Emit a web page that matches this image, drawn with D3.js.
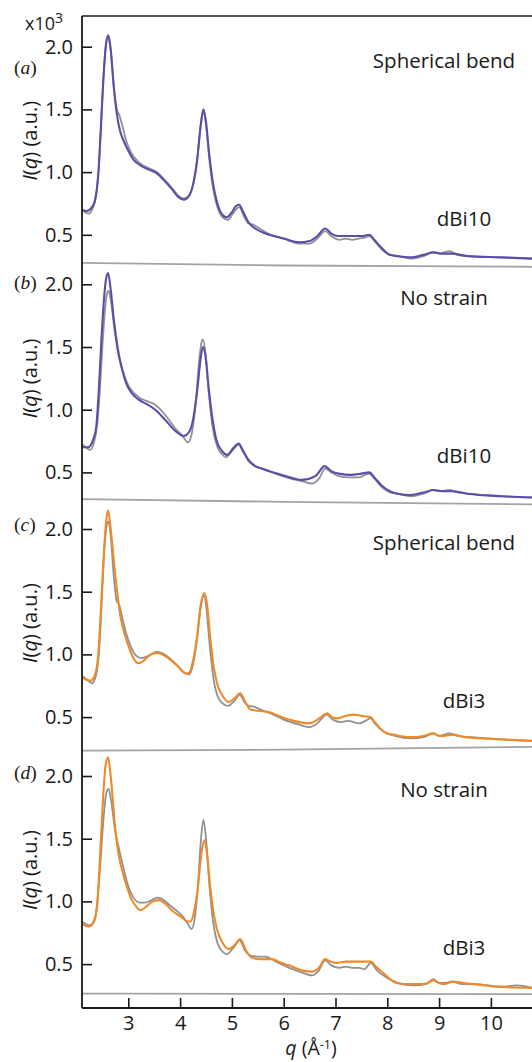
<!DOCTYPE html>
<html>
<head>
<meta charset="utf-8">
<script src="https://cdn.jsdelivr.net/npm/d3@7"></script>
<style>
  body { margin: 0; background: #fff; }
  svg text { font-family: "Open Sans", "DejaVu Sans", sans-serif; fill: #1a1a1a; }
  .panel-tag { font-family: "Liberation Serif", "DejaVu Serif", serif; }
</style>
</head>
<body>
<div id="chart"></div>
<script>
// ---- data (q in 1/Angstrom, intensity in units of 10^3) ----
var qTicks = [3, 4, 5, 6, 7, 8, 9, 10];
var yTicks = [0.5, 1.0, 1.5, 2.0];
var panelTags = ["a", "b", "c", "d"];
var topNotes = ["Spherical bend", "No strain", "Spherical bend", "No strain"];
var sampleNotes = ["dBi10", "dBi10", "dBi3", "dBi3"];

// (a) dBi10, spherical bend
var dataA = [[2.10,0.70],[2.16,0.68],[2.24,0.67],[2.32,0.72],[2.38,0.82],[2.44,1.10],[2.50,1.60],[2.56,1.98],[2.615,2.08],[2.66,1.97],[2.72,1.68],[2.78,1.50],[2.82,1.46],[2.88,1.38],[2.96,1.25],[3.05,1.16],[3.20,1.08],[3.40,1.03],[3.55,1.00],[3.70,0.94],[3.85,0.87],[3.97,0.81],[4.07,0.79],[4.17,0.81],[4.25,0.90],[4.33,1.10],[4.40,1.38],[4.45,1.49],[4.50,1.38],[4.56,1.12],[4.64,0.86],[4.72,0.72],[4.82,0.64],[4.92,0.62],[5.02,0.67],[5.14,0.72],[5.24,0.64],[5.32,0.59],[5.42,0.58],[5.50,0.56],[5.70,0.51],[6.00,0.47],[6.30,0.43],[6.50,0.43],[6.65,0.47],[6.80,0.53],[6.92,0.49],[7.08,0.46],[7.20,0.47],[7.32,0.46],[7.45,0.47],[7.58,0.48],[7.66,0.49],[7.75,0.45],[7.90,0.38],[8.05,0.34],[8.20,0.33],[8.45,0.31],[8.70,0.33],[8.88,0.36],[9.00,0.35],[9.20,0.37],[9.35,0.34],[9.55,0.33],[10.2,0.32],[10.8,0.31]];
var fitA = [[2.10,0.70],[2.20,0.69],[2.30,0.72],[2.36,0.78],[2.42,0.98],[2.47,1.35],[2.52,1.75],[2.57,2.02],[2.615,2.09],[2.66,1.98],[2.72,1.68],[2.78,1.46],[2.84,1.33],[2.90,1.26],[3.00,1.17],[3.10,1.10],[3.25,1.05],[3.40,1.02],[3.55,0.99],[3.70,0.93],[3.85,0.86],[3.97,0.80],[4.07,0.78],[4.17,0.81],[4.25,0.90],[4.33,1.10],[4.40,1.38],[4.45,1.50],[4.50,1.40],[4.56,1.15],[4.64,0.90],[4.72,0.75],[4.80,0.67],[4.90,0.64],[5.00,0.68],[5.08,0.73],[5.14,0.74],[5.22,0.68],[5.32,0.60],[5.45,0.55],[5.65,0.51],[6.00,0.47],[6.30,0.44],[6.50,0.45],[6.65,0.49],[6.80,0.55],[6.92,0.51],[7.05,0.49],[7.30,0.49],[7.50,0.49],[7.65,0.50],[7.75,0.46],[7.88,0.40],[8.05,0.34],[8.20,0.33],[8.45,0.32],[8.70,0.34],[8.90,0.36],[9.05,0.35],[9.25,0.35],[9.55,0.33],[10.2,0.32],[10.8,0.31]];
var baseA = [[2.10,0.276],[6.00,0.255],[10.8,0.245]];

// (b) dBi10, no strain
var dataB = [[2.10,0.73],[2.18,0.70],[2.26,0.68],[2.34,0.74],[2.40,0.88],[2.45,1.15],[2.50,1.50],[2.55,1.80],[2.60,1.94],[2.62,1.95],[2.67,1.85],[2.73,1.65],[2.80,1.46],[2.88,1.33],[2.97,1.22],[3.07,1.15],[3.20,1.10],[3.35,1.07],[3.52,1.04],[3.71,0.96],[3.91,0.85],[4.05,0.79],[4.15,0.74],[4.22,0.80],[4.30,1.05],[4.37,1.40],[4.42,1.55],[4.44,1.56],[4.49,1.45],[4.55,1.15],[4.62,0.88],[4.72,0.70],[4.82,0.64],[4.88,0.62],[5.00,0.67],[5.13,0.72],[5.22,0.66],[5.32,0.59],[5.45,0.55],[5.60,0.53],[5.97,0.47],[6.35,0.43],[6.55,0.41],[6.68,0.45],[6.80,0.53],[6.92,0.50],[7.06,0.47],[7.25,0.46],[7.45,0.46],[7.65,0.49],[7.75,0.45],[7.90,0.38],[8.05,0.34],[8.20,0.33],[8.45,0.31],[8.70,0.33],[8.88,0.36],[9.00,0.35],[9.20,0.36],[9.35,0.34],[9.55,0.33],[10.2,0.31],[10.8,0.30]];
var fitB = [[2.10,0.70],[2.22,0.70],[2.32,0.76],[2.38,0.86],[2.43,1.15],[2.48,1.55],[2.53,1.88],[2.57,2.04],[2.61,2.09],[2.66,1.96],[2.72,1.72],[2.80,1.48],[2.88,1.32],[2.97,1.20],[3.07,1.13],[3.20,1.08],[3.33,1.05],[3.52,1.00],[3.71,0.92],[3.91,0.83],[4.07,0.79],[4.17,0.82],[4.25,0.92],[4.33,1.15],[4.40,1.42],[4.44,1.50],[4.49,1.43],[4.55,1.18],[4.62,0.94],[4.70,0.76],[4.81,0.67],[4.91,0.64],[5.02,0.69],[5.13,0.73],[5.22,0.67],[5.32,0.60],[5.45,0.55],[5.58,0.53],[5.97,0.48],[6.35,0.44],[6.61,0.47],[6.79,0.55],[6.92,0.51],[7.06,0.49],[7.30,0.48],[7.50,0.49],[7.65,0.50],[7.75,0.46],[7.88,0.40],[8.05,0.35],[8.20,0.33],[8.45,0.32],[8.70,0.34],[8.90,0.36],[9.05,0.35],[9.25,0.35],[9.55,0.33],[10.2,0.31],[10.8,0.30]];
var baseB = [[2.10,0.287],[6.00,0.265],[10.8,0.245]];

// (c) dBi3, spherical bend
var dataC = [[2.10,0.83],[2.20,0.80],[2.30,0.77],[2.38,0.84],[2.44,1.05],[2.49,1.45],[2.54,1.85],[2.59,2.04],[2.62,2.06],[2.67,1.90],[2.72,1.62],[2.78,1.42],[2.82,1.40],[2.88,1.30],[2.95,1.18],[3.05,1.06],[3.15,0.99],[3.25,0.97],[3.40,0.99],[3.55,1.02],[3.65,1.01],[3.80,0.97],[3.95,0.91],[4.10,0.85],[4.17,0.84],[4.25,0.92],[4.32,1.10],[4.40,1.38],[4.46,1.47],[4.51,1.36],[4.57,1.08],[4.64,0.82],[4.72,0.67],[4.82,0.61],[4.92,0.59],[5.05,0.63],[5.15,0.68],[5.24,0.62],[5.32,0.59],[5.45,0.58],[5.55,0.56],[5.80,0.52],[6.00,0.48],[6.30,0.44],[6.50,0.42],[6.65,0.45],[6.83,0.52],[6.95,0.48],[7.10,0.46],[7.25,0.47],[7.35,0.46],[7.45,0.45],[7.58,0.47],[7.67,0.49],[7.78,0.44],[7.95,0.38],[8.15,0.35],[8.45,0.33],[8.70,0.34],[8.89,0.37],[9.00,0.35],[9.20,0.37],[9.35,0.35],[9.60,0.34],[10.3,0.32],[10.8,0.31]];
var fitC = [[2.10,0.82],[2.27,0.79],[2.36,0.84],[2.42,1.00],[2.47,1.35],[2.52,1.75],[2.57,2.05],[2.61,2.15],[2.66,2.00],[2.72,1.75],[2.79,1.48],[2.85,1.30],[2.93,1.16],[3.01,1.06],[3.10,0.97],[3.20,0.93],[3.30,0.95],[3.40,0.99],[3.50,1.01],[3.59,1.01],[3.70,0.99],[3.80,0.96],[3.97,0.90],[4.10,0.85],[4.16,0.85],[4.24,0.93],[4.32,1.12],[4.40,1.40],[4.47,1.49],[4.52,1.40],[4.58,1.14],[4.65,0.90],[4.72,0.76],[4.82,0.67],[4.94,0.62],[5.05,0.65],[5.16,0.69],[5.26,0.62],[5.36,0.56],[5.50,0.55],[5.71,0.54],[5.90,0.51],[6.10,0.48],[6.30,0.46],[6.48,0.45],[6.62,0.47],[6.75,0.51],[6.84,0.53],[6.93,0.50],[7.03,0.49],[7.20,0.51],[7.34,0.52],[7.50,0.51],[7.67,0.50],[7.76,0.46],[7.86,0.41],[8.00,0.37],[8.12,0.36],[8.44,0.34],[8.70,0.35],[8.89,0.37],[9.00,0.35],[9.08,0.35],[9.27,0.36],[9.50,0.34],[9.85,0.33],[10.3,0.32],[10.8,0.31]];
var baseC = [[2.10,0.233],[6.00,0.240],[10.8,0.262]];

// (d) dBi3, no strain
var dataD = [[2.10,0.84],[2.18,0.82],[2.26,0.81],[2.34,0.85],[2.40,0.98],[2.46,1.30],[2.52,1.65],[2.57,1.85],[2.62,1.90],[2.67,1.80],[2.74,1.58],[2.82,1.42],[2.90,1.28],[3.00,1.12],[3.10,1.03],[3.22,0.99],[3.32,0.99],[3.45,1.01],[3.55,1.03],[3.65,1.02],[3.80,0.97],[3.95,0.92],[4.05,0.88],[4.15,0.82],[4.22,0.78],[4.28,0.86],[4.34,1.10],[4.40,1.48],[4.45,1.65],[4.50,1.50],[4.56,1.16],[4.63,0.86],[4.72,0.67],[4.82,0.60],[4.90,0.58],[5.03,0.63],[5.15,0.69],[5.25,0.61],[5.35,0.57],[5.50,0.56],[5.65,0.56],[5.85,0.52],[6.00,0.49],[6.30,0.44],[6.55,0.41],[6.68,0.45],[6.80,0.53],[6.92,0.49],[7.08,0.47],[7.20,0.48],[7.32,0.47],[7.45,0.47],[7.56,0.46],[7.68,0.51],[7.80,0.45],[8.00,0.39],[8.20,0.35],[8.50,0.33],[8.75,0.34],[8.89,0.38],[9.00,0.35],[9.10,0.35],[9.25,0.36],[9.45,0.34],[9.70,0.34],[10.2,0.32],[10.5,0.33],[10.8,0.31]];
var fitD = [[2.10,0.82],[2.24,0.80],[2.34,0.84],[2.40,0.98],[2.46,1.40],[2.51,1.80],[2.56,2.08],[2.61,2.15],[2.66,2.00],[2.75,1.57],[2.81,1.38],[2.88,1.25],[2.97,1.12],[3.07,1.01],[3.15,0.96],[3.23,0.93],[3.35,0.96],[3.47,1.00],[3.59,1.01],[3.72,0.98],[3.84,0.93],[4.04,0.87],[4.15,0.84],[4.20,0.84],[4.27,0.92],[4.34,1.10],[4.41,1.38],[4.47,1.49],[4.52,1.38],[4.58,1.12],[4.65,0.90],[4.71,0.78],[4.82,0.67],[4.94,0.62],[5.05,0.65],[5.16,0.70],[5.27,0.61],[5.39,0.55],[5.55,0.54],[5.77,0.54],[5.95,0.51],[6.10,0.49],[6.35,0.45],[6.55,0.44],[6.68,0.47],[6.80,0.54],[6.90,0.52],[7.02,0.51],[7.20,0.52],[7.47,0.52],[7.68,0.52],[7.78,0.48],[7.92,0.43],[8.05,0.38],[8.18,0.35],[8.40,0.34],[8.63,0.34],[8.78,0.35],[8.89,0.37],[9.00,0.35],[9.08,0.34],[9.27,0.36],[9.45,0.35],[9.66,0.34],[10.1,0.32],[10.8,0.31]];
var baseD = [[2.10,0.265],[6.00,0.263],[10.8,0.260]];

// ---- layout ----
var W = 532, H = 1062;
var axisX = 82, topY = 16, bottomY = 1008;
var PURPLE = "#5b4ea8", ORANGE = "#ef8a2a", GRAY = "#8e9196", BASEGRAY = "#a4a4a4";

var panels = [
  { tag: panelTags[0], y20: 46.7, data: dataA, fit: fitA, base: baseA, color: PURPLE, note1: topNotes[0], note2: sampleNotes[0], tagY: 74 },
  { tag: panelTags[1], y20: 284.3, data: dataB, fit: fitB, base: baseB, color: PURPLE, note1: topNotes[1], note2: sampleNotes[1], tagY: 289 },
  { tag: panelTags[2], y20: 529, data: dataC, fit: fitC, base: baseC, color: ORANGE, note1: topNotes[2], note2: sampleNotes[2], tagY: 531 },
  { tag: panelTags[3], y20: 776, data: dataD, fit: fitD, base: baseD, color: ORANGE, note1: topNotes[3], note2: sampleNotes[3], tagY: 779 }
];

var svg = d3.select("#chart").append("svg")
  .attr("width", W)
  .attr("height", H);

var x = d3.scaleLinear()
  .domain([2, 10.8])
  .range([76.5, 76.5 + 51.8 * 8.8]);

svg.append("defs").append("clipPath").attr("id", "plotclip")
  .append("rect").attr("x", axisX).attr("y", topY).attr("width", W - axisX).attr("height", bottomY - topY);

panels.forEach(function (p) {
  var y = d3.scaleLinear()
    .domain([0.5, 2.0])
    .range([p.y20 + 188.1, p.y20]);

  var line = d3.line()
    .x(function (d) { return x(d[0]); })
    .y(function (d) { return y(d[1]); })
    .curve(d3.curveMonotoneX);

  var g = svg.append("g").attr("clip-path", "url(#plotclip)");

  g.append("path")
    .datum(p.base)
    .attr("d", line)
    .attr("fill", "none")
    .attr("stroke", BASEGRAY)
    .attr("stroke-width", 1.8);

  g.append("path")
    .datum(p.data)
    .attr("d", line)
    .attr("fill", "none")
    .attr("stroke", GRAY)
    .attr("stroke-width", 1.8);

  g.append("path")
    .datum(p.fit)
    .attr("d", line)
    .attr("fill", "none")
    .attr("stroke", p.color)
    .attr("stroke-width", 2.1);

  // y axis ticks point inward
  svg.append("g")
    .attr("transform", "translate(" + axisX + ",0)")
    .call(d3.axisLeft(y).tickValues(yTicks).tickSize(-10).tickPadding(9).tickFormat(d3.format(".1f")))
    .call(function (a) { a.select(".domain").remove(); })
    .call(function (a) {
      a.selectAll(".tick line").attr("stroke", "#1a1a1a").attr("stroke-width", 1.6);
      a.selectAll(".tick text").attr("font-size", 20).attr("fill", "#1a1a1a")
        .style("font-family", "'Open Sans', sans-serif");
    });

  // axis title
  var yl = svg.append("text")
    .attr("transform", "translate(37," + y(1.25) + ") rotate(-90)")
    .attr("text-anchor", "middle")
    .attr("font-size", 20);
  yl.append("tspan").attr("font-style", "italic").text("I");
  yl.append("tspan").text("(");
  yl.append("tspan").attr("font-style", "italic").text("q");
  yl.append("tspan").text(") (a.u.)");

  // panel letter
  var tg = svg.append("text")
    .attr("class", "panel-tag")
    .attr("x", 14)
    .attr("y", p.tagY)
    .attr("font-size", 19.5);
  tg.append("tspan").text("(");
  tg.append("tspan").attr("font-style", "italic").text(p.tag);
  tg.append("tspan").text(")");

  svg.append("text")
    .attr("x", 444)
    .attr("y", p.y20 + 14)
    .attr("dy", "0.35em")
    .attr("text-anchor", "middle")
    .attr("font-size", 20.5)
    .text(p.note1);

  svg.append("text")
    .attr("x", 464)
    .attr("y", p.y20 + 172)
    .attr("dy", "0.35em")
    .attr("text-anchor", "middle")
    .attr("font-size", 20.5)
    .text(p.note2);
});

// frame: left axis, top border, bottom axis
svg.append("line")
  .attr("x1", axisX).attr("x2", axisX)
  .attr("y1", topY).attr("y2", bottomY)
  .attr("stroke", "#1a1a1a").attr("stroke-width", 1.8);
svg.append("line")
  .attr("x1", axisX).attr("x2", W)
  .attr("y1", topY).attr("y2", topY)
  .attr("stroke", "#1a1a1a").attr("stroke-width", 1.6);

svg.append("g")
  .attr("transform", "translate(0," + bottomY + ")")
  .call(d3.axisBottom(x).tickValues(qTicks).tickSize(-10).tickPadding(7.5).tickFormat(d3.format("d")))
  .call(function (a) {
    a.select(".domain").attr("d", "M" + axisX + ",0H" + W).attr("stroke", "#1a1a1a").attr("stroke-width", 1.8);
    a.selectAll(".tick line").attr("stroke", "#1a1a1a").attr("stroke-width", 1.6);
    a.selectAll(".tick text").attr("font-size", 20).attr("fill", "#1a1a1a")
      .style("font-family", "'Open Sans', sans-serif");
  });

// x axis title
var xl = svg.append("text")
  .attr("x", 311)
  .attr("y", 1055)
  .attr("text-anchor", "middle")
  .attr("font-size", 19.5);
xl.append("tspan").attr("font-style", "italic").text("q");
xl.append("tspan").text(" (Å");
xl.append("tspan").attr("font-size", 12.5).attr("dy", -6).text("-1");
xl.append("tspan").attr("dy", 6).text(")");

// scale factor
var sf = svg.append("text")
  .attr("x", 25)
  .attr("y", 30)
  .attr("font-size", 18);
sf.append("tspan").text("x10");
sf.append("tspan").attr("font-size", 14).attr("dy", -7).text("3");
</script>
</body>
</html>
